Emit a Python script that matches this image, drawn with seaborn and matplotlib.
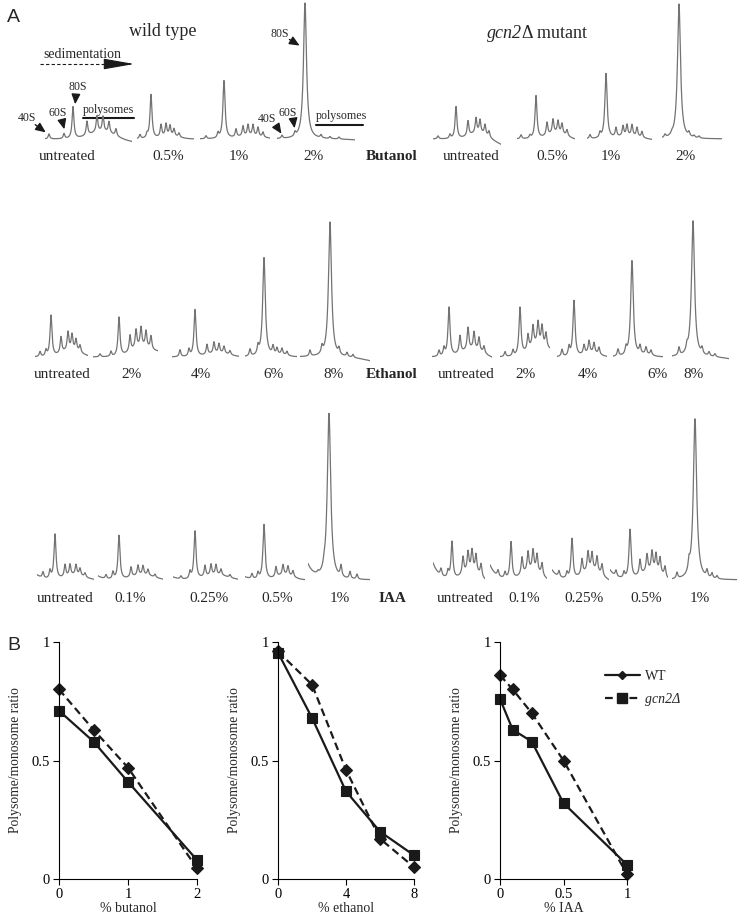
import numpy as np
import pandas as pd
import seaborn as sns
import matplotlib.pyplot as plt
from matplotlib.lines import Line2D

W, H = 738, 918

# ---------------- panel B data ----------------
butanol_dose = [0, 0.5, 1, 2]
butanol_diamond = [0.80, 0.63, 0.47, 0.045]
butanol_square = [0.71, 0.58, 0.41, 0.08]

ethanol_dose = [0, 2, 4, 6, 8]
ethanol_diamond = [0.96, 0.82, 0.46, 0.17, 0.05]
ethanol_square = [0.955, 0.68, 0.37, 0.20, 0.10]

iaa_dose = [0, 0.1, 0.25, 0.5, 1]
iaa_diamond = [0.86, 0.80, 0.70, 0.50, 0.02]
iaa_square = [0.76, 0.63, 0.58, 0.32, 0.06]

# ---------------- panel A profiles ----------------
# peak positions along the gradient (40S, 60S, 80S, polysomes...) and peak heights (A254, a.u.)
bu_wt_labels = ["untreated", "0.5%", "1%", "2%"]
bu_wt_pos = [[4, 19, 28, 42, 52, 58, 64, 71], [3, 10, 14, 24, 29, 33, 37, 42],
             [6, 18, 24, 36, 43, 48, 53, 58, 63], [5, 18, 28, 44, 53, 62]]
bu_wt_amp = [[5, 5, 32, 14, 16, 15, 11, 7], [4, 4, 44, 12, 12, 10, 7, 4],
             [3, 5, 58, 8, 10, 11, 11, 9, 5], [3, 4, 136, 3, 2, 2]]
bu_wt_hump = [8, 3, 3, 0]
bu_wt_lead = [0, 0, 0, 0]
bu_wt_tail = [-3, 0, 0, -1]

bu_mut_labels = ["untreated", "0.5%", "1%", "2%"]
bu_mut_pos = [[5, 17, 23, 35, 43, 47, 52, 56], [4, 13, 19, 30, 36, 41, 45, 50],
              [3, 13, 19, 29, 36, 40, 45, 50, 55], [3, 10, 17, 27, 32, 37]]
bu_mut_amp = [[3, 4, 32, 15, 15, 13, 10, 6], [4, 3, 43, 13, 14, 12, 10, 6],
              [4, 5, 65, 9, 10, 11, 11, 9, 6], [3, 2, 135, 4, 2, 2]]
bu_mut_hump = [7, 6, 3, 0]
bu_mut_lead = [0, 0, 0, 0]
bu_mut_tail = [-6, -1, -1, 0]

et_wt_labels = ["untreated", "2%", "4%", "6%", "8%"]
et_wt_pos = [[5, 11, 16, 26, 33, 37, 41, 45], [7, 18, 26, 37, 43, 48, 53, 58],
             [8, 17, 23, 35, 42, 47, 52, 58], [5, 13, 19, 28, 32, 37, 42],
             [10, 22, 30, 39, 47, 53]]
et_wt_amp = [[5, 6, 41, 16, 18, 15, 11, 7], [3, 5, 39, 16, 18, 19, 16, 13],
             [7, 7, 47, 10, 11, 9, 7, 4], [7, 8, 99, 8, 6, 6, 4],
             [6, 7, 135, 6, 4, 3]]
et_wt_hump = [7, 9, 4, 2, 0]
et_wt_lead = [0, 0, 0, 0, 0]
et_wt_tail = [0, 4, 0, 0, -4]

et_mut_labels = ["untreated", "2%", "4%", "6%", "8%"]
et_mut_pos = [[7, 12, 17, 28, 36, 42, 47, 52], [5, 13, 20, 28, 33, 38, 42, 46],
              [5, 12, 17, 27, 32, 37, 42], [5, 13, 19, 27, 33, 38],
              [7, 15, 21, 30, 37, 43]]
et_mut_amp = [[6, 8, 49, 17, 22, 17, 13, 7], [5, 6, 48, 15, 20, 22, 19, 14],
              [7, 9, 56, 9, 12, 10, 7], [7, 7, 96, 8, 7, 5],
              [8, 6, 136, 6, 4, 3]]
et_mut_hump = [8, 11, 4, 2, 0]
et_mut_lead = [0, 0, 0, 0, 0]
et_mut_tail = [-2, 4, 0, 0, -2]

ia_wt_labels = ["untreated", "0.1%", "0.25%", "0.5%", "1%"]
ia_wt_pos = [[6, 13, 18, 28, 33, 39, 43, 48], [8, 15, 21, 33, 40, 45, 50, 57],
             [8, 17, 22, 32, 38, 43, 48, 57], [7, 13, 19, 31, 38, 43, 48],
             [10, 16, 21, 33, 42, 49]]
ia_wt_amp = [[6, 8, 45, 12, 11, 10, 7, 4], [4, 7, 44, 10, 10, 9, 6, 3],
             [3, 7, 48, 11, 11, 10, 6, 3], [5, 6, 55, 10, 10, 9, 6],
             [2, 3, 166, 11, 7, 5]]
ia_wt_hump = [5, 5, 5, 5, 0]
ia_wt_lead = [5, 4, 3, 3, 15]
ia_wt_tail = [0, 0, 0, 0, 0]

ia_mut_labels = ["untreated", "0.1%", "0.25%", "0.5%", "1%"]
ia_mut_pos = [[8, 15, 19, 30, 35, 39, 43, 48], [8, 15, 21, 32, 38, 43, 47, 52],
              [7, 15, 20, 30, 36, 40, 45, 50], [6, 14, 20, 30, 37, 42, 46, 50, 55],
              [5, 17, 23, 35, 40, 45]]
ia_mut_amp = [[7, 7, 37, 17, 19, 20, 17, 12], [6, 6, 37, 17, 19, 20, 17, 12],
              [6, 6, 40, 15, 19, 17, 15, 11], [6, 6, 49, 15, 17, 19, 17, 15, 10],
              [6, 10, 161, 7, 5, 3]]
ia_mut_hump = [10, 10, 10, 10, 0]
ia_mut_lead = [17, 15, 10, 10, 0]
ia_mut_tail = [-3, -2, -2, -3, 0]

# ---------------- layout (pixels) ----------------
row_base = [139, 139, 357, 357, 580, 580]
row_left = [[45, 137, 200, 277], [433, 517, 587, 662],
            [35, 93, 172, 245, 300], [432, 500, 557, 613, 672],
            [37, 98, 173, 245, 308], [433, 490, 552, 610, 672]]
row_width = [[87, 57, 70, 78], [68, 58, 65, 60],
             [53, 65, 67, 52, 70], [60, 50, 50, 50, 57],
             [57, 65, 65, 60, 62], [52, 57, 57, 58, 65]]
label_y = [156, 156, 374, 374, 598, 598]
label_x = [[67, 168, 239, 313], [471, 552, 611, 685],
           [62, 131, 201, 274, 333], [466, 525, 588, 658, 694],
           [65, 130, 209, 277, 340], [465, 524, 584, 646, 700]]


def profile_curve(pos, amp, hump, lead, tail, width):
    x = np.linspace(0, width, 500)
    y = lead * np.exp(-x / 6.0) + tail * (x / width) ** 4
    for p, a in zip(pos, amp):
        w = 0.9 + a / 150.0
        y = y + a / (1.0 + ((x - p) / w) ** 2)
    poly = np.array(pos[3:], dtype=float)
    if hump and len(poly):
        c = poly.mean()
        s = (poly.max() - poly.min()) / 2 + 3
        y = y + hump * np.exp(-((x - c) / s) ** 2)
    return x, y


sns.set_theme(style="ticks")
plt.rcParams['font.family'] = ['Liberation Serif', 'DejaVu Serif']
plt.rcParams['axes.edgecolor'] = 'black'
plt.rcParams['xtick.color'] = 'black'
plt.rcParams['ytick.color'] = 'black'
plt.rcParams['axes.linewidth'] = 0.8

fig = plt.figure(figsize=(W / 100, H / 100), dpi=100)

ov = fig.add_axes([0, 0, 1, 1])
ov.set_xlim(0, W)
ov.set_ylim(H, 0)
ov.axis('off')

rows = [
    (bu_wt_pos, bu_wt_amp, bu_wt_hump, bu_wt_lead, bu_wt_tail, bu_wt_labels),
    (bu_mut_pos, bu_mut_amp, bu_mut_hump, bu_mut_lead, bu_mut_tail, bu_mut_labels),
    (et_wt_pos, et_wt_amp, et_wt_hump, et_wt_lead, et_wt_tail, et_wt_labels),
    (et_mut_pos, et_mut_amp, et_mut_hump, et_mut_lead, et_mut_tail, et_mut_labels),
    (ia_wt_pos, ia_wt_amp, ia_wt_hump, ia_wt_lead, ia_wt_tail, ia_wt_labels),
    (ia_mut_pos, ia_mut_amp, ia_mut_hump, ia_mut_lead, ia_mut_tail, ia_mut_labels),
]

for r, (pos, amp, hump, lead, tail, labels) in enumerate(rows):
    base = row_base[r]
    for i in range(len(pos)):
        left, width = row_left[r][i], row_width[r][i]
        ax = fig.add_axes([left / W, 1 - (base + 12) / H, width / W, 190 / H])
        x, y = profile_curve(pos[i], amp[i], hump[i], lead[i], tail[i], width)
        sns.lineplot(x=x, y=y, ax=ax, color='0.45', linewidth=0.9, errorbar=None)
        ax.set_xlim(0, width)
        ax.set_ylim(-12, 178)
        ax.axis('off')
        ov.text(label_x[r][i], label_y[r], labels[i], ha='center', va='center', fontsize=11)

for name, y in [("Butanol", 156), ("Ethanol", 374), ("IAA", 598)]:
    ov.text(392, y, name, ha='center', va='center', fontsize=11, fontweight='bold')

ov.text(7, 18, "A", fontsize=14, family='Liberation Sans', va='center', ha='left')
ov.text(7, 645, "B", fontsize=14, family='Liberation Sans', va='center', ha='left')
ov.text(163, 31, "wild type", fontsize=13, ha='center', va='center')
ov.text(522, 33, "gcn2", fontsize=13, ha='right', va='center', style='italic')
ov.text(522, 33, "Δ mutant", fontsize=13, ha='left', va='center')

# sedimentation arrow
ov.text(82, 54, "sedimentation", fontsize=10, ha='center', va='center')
ov.plot([40, 119], [64, 64], color='k', lw=0.8, ls=(0, (3, 2)))
ov.annotate('', xy=(137, 64), xytext=(117, 64),
            arrowprops=dict(arrowstyle='-|>,head_length=1.6,head_width=0.28', color='k', lw=0.8))

arrow_kw = dict(arrowstyle='-|>,head_length=0.5,head_width=0.22', color='k', lw=1.0)
for txt, tx, ty, x0, y0, x1, y1 in [
        ("40S", 27, 118, 33, 123, 48, 134),
        ("60S", 58, 113, 62, 120, 65, 132),
        ("80S", 78, 87, 76, 93, 75, 107),
        ("80S", 280, 34, 287, 38, 302, 47),
        ("40S", 267, 119, 275, 124, 283, 136),
        ("60S", 288, 113, 293, 118, 295, 131)]:
    ov.text(tx, ty, txt, fontsize=8.5, ha='center', va='center')
    ov.annotate('', xy=(x1, y1), xytext=(x0, y0), arrowprops=arrow_kw)

ov.text(108, 110, "polysomes", fontsize=8.6, ha='center', va='center')
ov.plot([83, 134], [118, 118], color='k', lw=1.5)
ov.text(341, 116, "polysomes", fontsize=8.6, ha='center', va='center')
ov.plot([316, 363], [125, 125], color='k', lw=1.5)

# ---------------- panel B ----------------
panels = [
    (59, 138, butanol_dose, butanol_diamond, butanol_square, [0, 1, 2], ["0", "1", "2"], "% butanol"),
    (278, 136, ethanol_dose, ethanol_diamond, ethanol_square, [0, 4, 8], ["0", "4", "8"], "% ethanol"),
    (500, 127, iaa_dose, iaa_diamond, iaa_square, [0, 0.5, 1], ["0", "0.5", "1"], "% IAA"),
]
top, bottom = 642, 879
for left, width, dose, dia, sq, xt, xtl, xlabel in panels:
    ax = fig.add_axes([left / W, 1 - bottom / H, width / W, (bottom - top) / H])
    df = pd.DataFrame({'dose': dose, 'diamond': dia, 'square': sq})
    sns.lineplot(data=df, x='dose', y='diamond', ax=ax, color='k', linewidth=1.6,
                 marker='D', markersize=6.0, markeredgecolor='k', markeredgewidth=0.8,
                 clip_on=False, errorbar=None)
    ax.lines[-1].set_dashes((3.5, 2))
    sns.lineplot(data=df, x='dose', y='square', ax=ax, color='k', linewidth=1.6,
                 marker='s', markersize=7.2, markeredgecolor='k', markeredgewidth=0.8,
                 clip_on=False, errorbar=None)
    ax.set_xlim(min(xt), max(xt))
    ax.set_ylim(0, 1)
    ax.set_xticks(xt)
    ax.set_xticklabels(xtl)
    ax.set_yticks([0, 0.5, 1])
    ax.set_yticklabels(["0", "0.5", "1"])
    ax.tick_params(direction='out', length=4, width=0.8, pad=2.5, labelsize=10.5)
    sns.despine(ax=ax)
    ax.set_xlabel(xlabel, fontsize=10)
    ax.set_ylabel("Polysome/monosome ratio", fontsize=9.8)
    ax.xaxis.set_label_coords(0.5, -0.095)
    ax.yaxis.set_label_coords(-37 / width, 0.5)

handles = [
    Line2D([], [], color='k', lw=1.6, marker='D', markersize=4),
    Line2D([], [], color='k', lw=1.6, ls=(0, (3.5, 2)), marker='s', markersize=7.5),
]
leg = fig.legend(handles, ["WT", "gcn2Δ"], loc='center left',
                 bbox_to_anchor=(605 / W, 1 - 688 / H), bbox_transform=fig.transFigure,
                 frameon=False, fontsize=10, handlelength=2.5, handletextpad=0.4,
                 labelspacing=0.7, borderpad=0, borderaxespad=0)
leg.get_texts()[1].set_style('italic')

fig.savefig("out.png", dpi=100)
